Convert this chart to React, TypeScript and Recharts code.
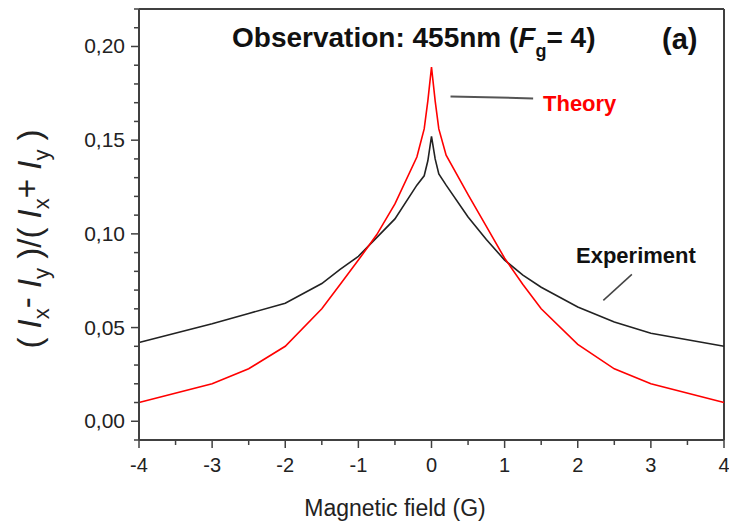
import React from "react";
import { LineChart, Line, XAxis, YAxis, ReferenceLine, Customized } from "recharts";

const fieldG = [-4, -3, -2.5, -2, -1.5, -1.25, -1, -0.75, -0.5, -0.2, -0.1, -0.05, 0, 0.05, 0.1, 0.2, 0.5, 0.75, 1, 1.25, 1.5, 2, 2.5, 3, 4];
const theory = [0.01, 0.02, 0.028, 0.04, 0.06, 0.073, 0.086, 0.0995, 0.116, 0.141, 0.156, 0.171, 0.189, 0.171, 0.156, 0.142, 0.121, 0.104, 0.087, 0.073, 0.06, 0.041, 0.028, 0.02, 0.01];
const experiment = [0.042, 0.052, 0.0575, 0.063, 0.0735, 0.081, 0.088, 0.098, 0.108, 0.126, 0.131, 0.139, 0.152, 0.14, 0.132, 0.126, 0.109, 0.097, 0.086, 0.078, 0.0715, 0.061, 0.053, 0.047, 0.04];

const xTicks = [-4, -3.5, -3, -2.5, -2, -1.5, -1, -0.5, 0, 0.5, 1, 1.5, 2, 2.5, 3, 3.5, 4];
const xMajor = [-4, -3, -2, -1, 0, 1, 2, 3, 4];
const yTicks = [-0.01, 0, 0.01, 0.02, 0.03, 0.04, 0.05, 0.06, 0.07, 0.08, 0.09, 0.1, 0.11, 0.12, 0.13, 0.14, 0.15, 0.16, 0.17, 0.18, 0.19, 0.2, 0.21, 0.22];
const yMajor = [0, 0.05, 0.1, 0.15, 0.2];

const data = fieldG.map((b, i) => ({ b, theory: theory[i], experiment: experiment[i] }));

const FONT = "'Liberation Sans', Arial, sans-serif";
const AXIS = "#404040";

const isIn = (list: number[], v: number) => list.some((m) => Math.abs(m - v) < 1e-9);

const XTick = (props: any) => {
	const { x, y, payload } = props;
	const major = isIn(xMajor, payload.value);
	return (
		<g>
			<line x1={x} x2={x} y1={y} y2={y + (major ? 8 : 5)} stroke={AXIS} strokeWidth={1.5} />
			{major && (
				<text x={x} y={y + 32} textAnchor="middle" fontSize={20} fill="#222" fontFamily={FONT}>
					{payload.value}
				</text>
			)}
		</g>
	);
};

const YTick = (props: any) => {
	const { x, y, payload } = props;
	const major = isIn(yMajor, payload.value);
	return (
		<g>
			<line x1={x - (major ? 8 : 5)} x2={x} y1={y} y2={y} stroke={AXIS} strokeWidth={1.5} />
			{major && (
				<text x={x - 14} y={y + 7} textAnchor="end" fontSize={21} fill="#222" fontFamily={FONT}>
					{payload.value.toFixed(2).replace(".", ",")}
				</text>
			)}
		</g>
	);
};

const Annotations = () => (
	<g fontFamily={FONT}>
		<text x={232} y={47} fontSize={28} fontWeight="bold" fill="#111">
			Observation: 455nm (<tspan fontStyle="italic">F</tspan>
			<tspan fontSize={18} dy={10}>g</tspan>
			<tspan dy={-10}>= 4)</tspan>
		</text>
		<text x={662} y={49} fontSize={29} fontWeight="bold" fill="#111">(a)</text>
		<text x={543} y={111} fontSize={22} fontWeight="bold" fill="#ff0000">Theory</text>
		<text x={576} y={263} fontSize={22} fontWeight="bold" fill="#111">Experiment</text>
		<text x={395} y={516} fontSize={23} textAnchor="middle" fill="#222">Magnetic field (G)</text>
		<text x={41} y={239} fontSize={33} textAnchor="middle" fill="#222" transform="rotate(-90, 41, 239)">
			( <tspan fontStyle="italic">I</tspan>
			<tspan fontSize={22} dy={8}>x</tspan>
			<tspan dy={-11}>-</tspan>
			<tspan dy={3}> </tspan>
			<tspan fontStyle="italic">I</tspan>
			<tspan fontSize={22} dy={8}>y</tspan>
			<tspan dy={-8}> )/( </tspan>
			<tspan fontStyle="italic">I</tspan>
			<tspan fontSize={22} dy={8}>x</tspan>
			<tspan dy={-11}>+</tspan>
			<tspan dy={3}> </tspan>
			<tspan fontStyle="italic">I</tspan>
			<tspan fontSize={22} dy={8}>y</tspan>
			<tspan dy={-8}> )</tspan>
		</text>
	</g>
);

export default function App() {
	return (
		<div style={{ position: "absolute", left: 0, top: 0, background: "#fff" }}>
			<LineChart width={729} height={522} data={data} margin={{ top: 9, right: 5, bottom: 0, left: 0 }}>
				<XAxis
					dataKey="b"
					type="number"
					domain={[-4, 4]}
					ticks={xTicks}
					interval={0}
					height={82}
					tickSize={0}
					tickMargin={0}
					tickLine={false}
					tick={<XTick />}
					axisLine={{ stroke: AXIS, strokeWidth: 2 }}
				/>
				<YAxis
					type="number"
					domain={[-0.01, 0.22]}
					ticks={yTicks}
					interval={0}
					width={139}
					tickSize={0}
					tickMargin={0}
					tickLine={false}
					tick={<YTick />}
					axisLine={{ stroke: AXIS, strokeWidth: 2 }}
				/>
				<ReferenceLine x={4} stroke={AXIS} strokeWidth={2} />
				<ReferenceLine y={0.22} stroke={AXIS} strokeWidth={2} />
				<ReferenceLine segment={[{ x: 0.26, y: 0.1733 }, { x: 1.39, y: 0.1723 }]} stroke="#555" strokeWidth={2} />
				<ReferenceLine segment={[{ x: 2.35, y: 0.0645 }, { x: 2.74, y: 0.0784 }]} stroke="#444" strokeWidth={1.5} />
				<Line type="linear" dataKey="experiment" stroke="#222" strokeWidth={1.6} dot={false} isAnimationActive={false} />
				<Line type="linear" dataKey="theory" stroke="#ff0000" strokeWidth={1.6} dot={false} isAnimationActive={false} />
				<Customized component={<Annotations />} />
			</LineChart>
		</div>
	);
}
